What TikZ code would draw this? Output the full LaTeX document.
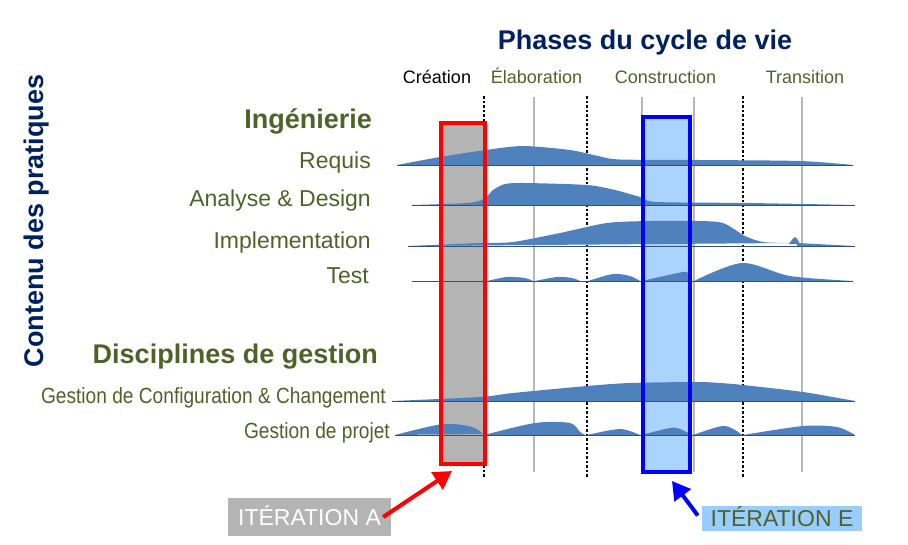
\documentclass[tikz,border=0pt]{standalone}
\usepackage{fontspec}
\setmainfont{Liberation Sans}
\usepackage{graphicx}
\usetikzlibrary{positioning,arrows.meta}
\definecolor{navy}{RGB}{0,32,96}
\definecolor{olive}{RGB}{79,98,40}
\definecolor{humpblue}{RGB}{79,129,189}
\definecolor{humpline}{RGB}{50,80,125}
\definecolor{boxgray}{RGB}{180,180,180}
\definecolor{lightblue}{RGB}{170,212,252}
\definecolor{tagblue}{RGB}{153,204,255}
\newcommand{\narrow}[1]{\scalebox{.87}[1]{#1}}

\begin{document}
\begin{tikzpicture}[x=1pt,y=-1pt,
  lbl/.style={font=\fontsize{23}{23}\selectfont,text=olive,inner sep=0pt,anchor=base east},
  narrowlbl/.style={font=\fontsize{22}{22}\selectfont,text=olive,inner sep=0pt,anchor=base east},
  head/.style={font=\fontsize{27}{27}\selectfont\bfseries,text=olive,inner sep=0pt,anchor=base east},
  phase/.style={font=\fontsize{18}{18}\selectfont,text=olive,inner sep=0pt,anchor=base},
  hump/.style={fill=humpblue},
  baseln/.style={draw=humpline,line width=1pt},
  gridln/.style={draw=black!28,line width=1.2pt},
  bound/.style={draw=black,line width=2.5pt,dash pattern=on 2.5pt off 2pt},
  boxfill/.style={inner sep=0pt,outer sep=0pt},
  iterbox/.style={inner sep=0pt,line width=4.5pt},
  tag/.style={font=\fontsize{23}{23}\selectfont,inner sep=0pt,text height=16.5pt,text depth=0pt},
  arr/.style={line width=4pt,-{Triangle[length=18pt,width=20pt]}}]

  \useasboundingbox (0,0) rectangle (908,544);

  % titles
  \node[font=\fontsize{27}{27}\selectfont\bfseries,text=navy,inner sep=0pt,anchor=base] (title) at (645,49) {Phases du cycle de vie};
  \node[font=\fontsize{27}{27}\selectfont\bfseries,text=navy,inner sep=0pt,anchor=base,rotate=90] (side) at (43,221) {Contenu des pratiques};

  \node[phase,text=black] (crea) at (437,83) {Création};
  \node[phase] (elab) at (536.5,83) {Élaboration};
  \node[phase] (cons) at (665.5,83) {Construction};
  \node[phase] (trans) at (805,83) {Transition};

  % left labels
  \node[head] (inge) at (372,128) {Ingénierie};
  \node[lbl] (req) at (371,168) {Requis};
  \node[lbl] (ad) at (371,206) {Analyse \& Design};
  \node[lbl] (impl) at (371,248) {Implementation};
  \node[lbl] (test) at (369,283) {Test};
  \node[head] (gest) at (378,363) {Disciplines de gestion};
  \node[narrowlbl] (gcc) at (386,403) {\narrow{Gestion de Configuration \& Changement}};
  \node[narrowlbl] (gp) at (390,438) {\narrow{Gestion de projet}};

  % grid and phase limits
  \foreach \x in {534,642,694,802}
    \draw[gridln] (\x,97) -- (\x,472);
  \foreach \x in {484,587,743}
    \draw[bound] (\x,96) -- (\x,477);

  % iteration fills
  \node[boxfill,fill=boxgray,minimum width=44pt,minimum height=341pt] (fillA) at (463,293.5) {};
  \node[boxfill,fill=lightblue,minimum width=47pt,minimum height=355pt] (fillE) at (666.5,294.5) {};

  % humps
  \fill[hump] plot[smooth,tension=.45] coordinates {(397,165) (440,157) (486,150) (523,146) (570,150) (598,156) (620,159.5) (700,160) (800,161) (853,165)} -- cycle;
  \fill[hump] plot[smooth,tension=.45] coordinates {(412,205) (467,203) (484,199) (493,190) (505,184) (525,183) (587,185) (615,190) (640,197) (657,202) (750,203) (855,205)} -- cycle;
  \fill[hump] plot[smooth,tension=.45] coordinates {(408,246) (480,243) (513,242) (560,233) (607,223) (650,221) (697,221) (723,223) (745,236) (763,242) (789,243)} -- cycle;
  \fill[hump] plot[smooth,tension=.5] coordinates {(789,244) (795,237) (800,244)} -- cycle;
  \fill[hump] (797,243) -- (855,246) -- (797,246) -- cycle;
  \fill[hump] plot[smooth,tension=.5] coordinates {(487,281) (507,277) (525,278) (533,281)} -- cycle;
  \fill[hump] plot[smooth,tension=.5] coordinates {(535,281) (557,277) (572,278) (580,281)} -- cycle;
  \fill[hump] plot[smooth,tension=.5] coordinates {(588,281) (613,274) (630,276) (640,281)} -- cycle;
  \fill[hump] plot[smooth,tension=.5] coordinates {(642,281) (683,272) (688,274) (692,281)} -- cycle;
  \fill[hump] plot[smooth,tension=.5] coordinates {(694,281) (742,263) (790,276) (853,281)} -- cycle;
  \fill[hump] plot[smooth,tension=.45] coordinates {(392,401) (480,397) (513,393) (587,386) (630,383) (697,382) (720,383) (743,385) (803,392) (855,401)} -- cycle;
  \fill[hump] plot[smooth,tension=.5] coordinates {(395,435) (443,424) (472,427) (483,434)} -- cycle;
  \fill[hump] plot[smooth,tension=.5] coordinates {(484,435) (535,423) (570,423) (580,432) (585,435)} -- cycle;
  \fill[hump] plot[smooth,tension=.5] coordinates {(587,435) (620,429) (640,435)} -- cycle;
  \fill[hump] plot[smooth,tension=.5] coordinates {(641,435) (670,428) (680,429) (692,435)} -- cycle;
  \fill[hump] plot[smooth,tension=.5] coordinates {(693,435) (722,426) (735,430) (742,435)} -- cycle;
  \fill[hump] plot[smooth,tension=.5] coordinates {(743,435) (803,426) (837,427) (855,435)} -- cycle;

  % baselines
  \draw[baseln] (397,165) -- (853,165);
  \draw[baseln] (412,205) -- (855,205);
  \draw[baseln] (408,246) -- (855,246);
  \draw[baseln] (412,281) -- (853,281);
  \draw[baseln] (392,401) -- (855,401);
  \draw[baseln] (395,435) -- (855,435);

  % iteration frames
  \node[iterbox,draw=red,minimum width=44pt,minimum height=341pt] (boxA) at (fillA) {};
  \node[iterbox,draw=blue,minimum width=47pt,minimum height=355pt] (boxE) at (fillE) {};

  % tags and arrows
  \node[tag,fill=boxgray,text=white,minimum width=163pt,minimum height=38pt] (iterA) at (309.5,517) {ITÉRATION A};
  \node[tag,fill=tagblue,text=olive,minimum width=160pt,minimum height=25pt] (iterE) at (782,518.5) {ITÉRATION E};
  \coordinate (tipA) at (452,471);
  \coordinate (tipE) at (672,481);
  \draw[arr,red] ([xshift=-8pt]iterA.east) -- (tipA);
  \draw[arr,blue] ([xshift=-4pt,yshift=3pt]iterE.west) -- (tipE);

\end{tikzpicture}
\end{document}
